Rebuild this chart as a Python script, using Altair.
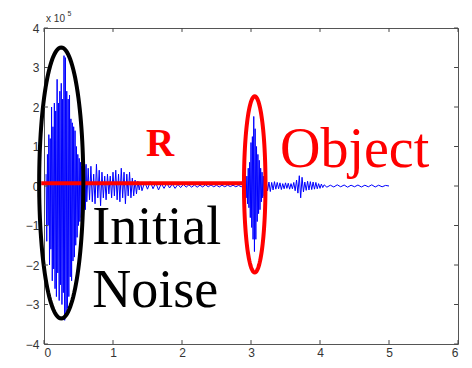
import altair as alt
import numpy as np
import pandas as pd

# ---- signal samples (units of 1e5) ----
burst1_start, burst1_step = 0.03, 0.01
burst1 = [0.3, -1.4, 0.8, -1.0, 1.3, -2.0, 1.2, -1.6, 2.0, -2.4,
          1.5, -2.1, 2.1, -2.6, 1.9, -2.8, 2.7, -2.2, 2.1, -2.9,
          2.4, -2.5, 2.6, -3.0, 2.2, -2.7, 3.3, -3.4, 3.25, -3.2,
          2.4, -3.1, 2.2, -2.8, 2.3, -2.3, 1.7, -2.4, 1.6, -1.9,
          1.5, -1.8, 1.4, -1.5, 1.0, -1.3, 0.8, -1.0, 0.7, -0.9,
          0.6, -0.8, 0.5, -0.7, 0.6, -0.5, 0.5, -0.6, 0.55, -0.4]
tail1_start, tail1_step = 0.64, 0.02
tail1 = [0.45, -0.35, 0.5, -0.4, 0.3, -0.45, 0.55, -0.3, 0.4, -0.5,
         0.35, -0.3, 0.25, -0.35, 0.3, -0.2, 0.25, -0.3, 0.35, -0.25,
         0.4, -0.35, 0.3, -0.4, 0.45, -0.3, 0.35, -0.45, 0.3, -0.25,
         0.35, -0.3, 0.2, -0.25, 0.15, -0.2, 0.12, -0.1, 0.1]
tail2_start, tail2_step = 1.42, 0.04
tail2 = [-0.12, 0.10, -0.08, 0.11, -0.07, 0.08, -0.10, 0.06, -0.06, 0.07,
         -0.05, 0.05, -0.06, 0.04, -0.04, 0.04, -0.03, 0.03, -0.03, 0.025,
         -0.03, 0.02, -0.025, 0.03, -0.02, 0.025, -0.02, 0.02, -0.025, 0.02,
         -0.02, 0.02, -0.015, 0.02, -0.02, 0.015, -0.02]
echo_start, echo_step = 2.90, 0.01
echo = [0.05, -0.15, 0.2, -0.3, 0.25, -0.45, 0.45, -0.55, 0.6, -0.8,
        1.1, -1.05, 1.25, -1.35, 1.76, -1.66, 1.45, -1.35, 1.0, -0.9,
        0.8, -0.7, 0.65, -0.6, 0.45, -0.4, 0.35, -0.3, 0.25, -0.25,
        0.2, -0.15, 0.12]
tail3_start, tail3_step = 3.24, 0.02
tail3 = [-0.12, 0.10, -0.14, 0.09, -0.10, 0.11, -0.08, 0.09, -0.07, 0.08,
         -0.09, 0.06, -0.07, 0.08, -0.06, 0.07, -0.08, 0.06, -0.07, 0.09,
         -0.12, 0.15, -0.18, 0.26, -0.30, 0.22, -0.15, 0.10, -0.11, 0.12,
         -0.10, 0.11, -0.09, 0.10, -0.08, 0.09, -0.07, 0.06, -0.06, 0.05,
         -0.04, 0.03]
tail4_start, tail4_step = 4.10, 0.05
tail4 = [-0.03, 0.02, -0.025, 0.03, -0.02, 0.025, -0.03, 0.02, -0.02, 0.025,
         -0.025, 0.02, -0.02, 0.03, -0.025, 0.02, -0.02, 0.015, 0.0]

x_ticks = [0, 1, 2, 3, 4, 5, 6]
y_ticks = [-4, -3, -2, -1, 0, 1, 2, 3, 4]

# annotations (data coordinates)
range_line_x = [-0.04, 2.88]
range_line_y = 0.07
noise_ellipse = dict(cx=0.25, cy=0.075, rx=0.32, ry=3.43)
object_ellipse = dict(cx=3.054, cy=0.04, rx=0.156, ry=2.23)

segments = [(burst1_start, burst1_step, burst1), (tail1_start, tail1_step, tail1),
            (tail2_start, tail2_step, tail2), (echo_start, echo_step, echo),
            (tail3_start, tail3_step, tail3), (tail4_start, tail4_step, tail4)]
xs, ys = [], []
for s, st, vals in segments:
    xs += list(np.round(s + st * np.arange(len(vals)), 4))
    ys += vals
sig = pd.DataFrame({"t": xs, "v": ys})

X = alt.Scale(domain=[0, 6], nice=False, zero=False)
Y = alt.Scale(domain=[-4, 4], nice=False, zero=False)
AX = alt.Axis(values=x_ticks, tickCount=7, format="d", title=None, ticks=False,
              domain=False, grid=False, labelPadding=3, labelOverlap=False)
AY = alt.Axis(values=y_ticks, tickCount=9, format="d", title=None, ticks=False,
              domain=False, grid=False, labelPadding=5, labelOverlap=False)


def ex(f):
    return alt.X(f, scale=X, axis=AX, title=None)


def ey(f):
    return alt.Y(f, scale=Y, axis=AY, title=None)


signal = alt.Chart(sig).mark_line(color="#0000ff", strokeWidth=1).encode(
    x=ex("t:Q"), y=ey("v:Q"))

# inward ticks (MATLAB style box)
tk = []
for v in x_ticks:
    tk.append({"x": v, "x2": v, "y": -4, "y2": -3.9})
    tk.append({"x": v, "x2": v, "y": 4, "y2": 3.9})
for v in y_ticks:
    tk.append({"x": 0, "x2": 0.057, "y": v, "y2": v})
    tk.append({"x": 6, "x2": 5.943, "y": v, "y2": v})
ticks = alt.Chart(pd.DataFrame(tk)).mark_rule(color="#444444", strokeWidth=1).encode(
    x=ex("x:Q"), x2="x2", y=ey("y:Q"), y2="y2")

rline = alt.Chart(pd.DataFrame({"x": [range_line_x[0]], "x2": [range_line_x[1]],
                                "y": [range_line_y]})).mark_rule(
    color="#ff0000", strokeWidth=4).encode(x=ex("x:Q"), x2="x2", y=ey("y:Q"))


def ellipse(e, color):
    th = np.linspace(0, 2 * np.pi, 121)
    df = pd.DataFrame({"x": e["cx"] + e["rx"] * np.cos(th),
                       "y": e["cy"] + e["ry"] * np.sin(th),
                       "i": np.arange(len(th))})
    return alt.Chart(df).mark_line(color=color, strokeWidth=4).encode(
        x=ex("x:Q"), y=ey("y:Q"), order="i:Q")


def label(txt, x, y, size, color, font="Liberation Serif", weight="normal", align="left"):
    return alt.Chart(pd.DataFrame({"x": [x], "y": [y], "t": [txt]})).mark_text(
        text=txt, font=font, fontSize=size, color=color, fontWeight=weight,
        align=align, baseline="alphabetic").encode(x=ex("x:Q"), y=ey("y:Q"))


chart = alt.layer(
    signal,
    rline,
    ellipse(noise_ellipse, "#000000"),
    ellipse(object_ellipse, "#ff0000"),
    ticks,
    label("Initial", 0.70, -1.47, 54, "#000000"),
    label("Noise", 0.70, -3.06, 54, "#000000"),
    label("R", 1.48, 0.77, 39, "#ff0000", weight="bold"),
    label("Object", 3.42, 0.47, 56, "#ff0000"),
    label("x 10", 0.03, 4.16, 10, "#333333", font="Liberation Sans"),
    label("5", 0.34, 4.30, 7, "#333333", font="Liberation Sans"),
).properties(
    width=414, height=316,
    autosize=alt.AutoSizeParams(type="none"),
    padding={"left": 36, "top": 20, "right": 6, "bottom": 16},
).configure_view(stroke="#555555", strokeWidth=1).configure_axis(
    labelFont="Liberation Sans", labelFontSize=12, labelColor="#333333")

chart.save("out.html", embed_options={"renderer": "svg", "actions": False})
